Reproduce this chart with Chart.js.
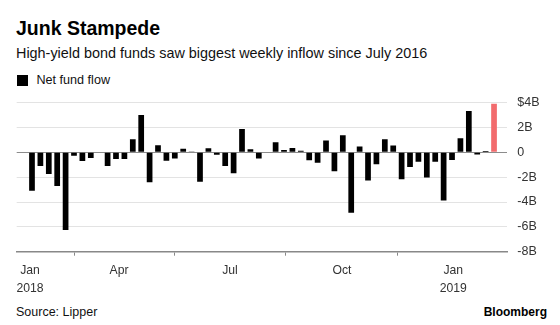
<!DOCTYPE html>
<html>
<head>
<meta charset="utf-8">
<script src="https://cdn.jsdelivr.net/npm/chart.js@4.4.1/dist/chart.umd.min.js"></script>
<style>
    body { margin: 0; background: #fff; }
    #wrap { position: relative; width: 560px; height: 325px; font-family: 'Liberation Sans', Arial, sans-serif; color: #000; }
    .t { position: absolute; white-space: nowrap; line-height: 1; }
    #title { left: 16px; top: 19px; font-size: 19.5px; font-weight: bold; }
    #sub { left: 16px; top: 45.8px; font-size: 14.4px; color: #111; }
    #key { position: absolute; left: 17px; top: 75px; width: 11px; height: 11px; background: #000; }
    #keyText { left: 36.5px; top: 74px; font-size: 12.6px; color: #111; }
    #source { left: 16px; top: 305.5px; font-size: 12.5px; color: #111; }
    #brand { right: 13px; top: 306px; font-size: 12px; font-weight: bold; }
    #chart { position: absolute; left: 0; top: 90px; }
</style>
</head>
<body>
<div id="wrap">
    <div class="t" id="title">Junk Stampede</div>
    <div class="t" id="sub">High-yield bond funds saw biggest weekly inflow since July 2016</div>
    <div id="key"></div>
    <div class="t" id="keyText">Net fund flow</div>
    <canvas id="chart" width="560" height="215"></canvas>
    <div class="t" id="source">Source: Lipper</div>
    <div class="t" id="brand">Bloomberg</div>
</div>
<script>
// weekly high-yield fund flows, $ billions (week ending)
const weeks = [
    '2018-01-17', '2018-01-24', '2018-01-31', '2018-02-07', '2018-02-14', '2018-02-21', '2018-02-28',
    '2018-03-07', '2018-03-14', '2018-03-21', '2018-03-28', '2018-04-04', '2018-04-11', '2018-04-18',
    '2018-04-25', '2018-05-02', '2018-05-09', '2018-05-16', '2018-05-23', '2018-05-30', '2018-06-06',
    '2018-06-13', '2018-06-20', '2018-06-27', '2018-07-04', '2018-07-11', '2018-07-18', '2018-07-25',
    '2018-08-01', '2018-08-08', '2018-08-15', '2018-08-22', '2018-08-29', '2018-09-05', '2018-09-12',
    '2018-09-19', '2018-09-26', '2018-10-03', '2018-10-10', '2018-10-17', '2018-10-24', '2018-10-31',
    '2018-11-07', '2018-11-14', '2018-11-21', '2018-11-28', '2018-12-05', '2018-12-12', '2018-12-19',
    '2018-12-26', '2019-01-02', '2019-01-09', '2019-01-16', '2019-01-23', '2019-01-30', '2019-02-06'
];
const flows = [
    -3.1, -1.1, -1.75, -2.7, -6.25, -0.27, -0.7,
    -0.46, 0.05, -1.1, -0.54, -0.54, 1.05, 3.0,
    -2.4, 0.57, -0.68, -0.49, 0.3, 0.02, -2.36,
    0.33, -0.2, -1.1, -1.68, 1.88, 0.26, -0.49,
    0.05, 0.82, 0.2, 0.35, 0.13, -0.63, -0.84,
    0.95, -1.52, 1.38, -4.86, 0.47, -2.26, -0.96,
    1.05, 0.56, -2.16, -1.18, -0.75, -2.02, -0.76,
    -3.88, -0.62, 1.13, 3.34, -0.18, 0.12, 3.91
];

// month ticks, in week-index units
const tickPos = [-0.24, 10.36, 23.57, 36.9, 50.15];
const tickLabels = [['Jan', '2018'], ['Apr'], ['Jul'], ['Oct'], ['Jan', '2019']];

const barColors = flows.map((v, i) => i === flows.length - 1 ? '#f26b6d' : '#000000');

new Chart(document.getElementById('chart'), {
    type: 'bar',
    data: {
        datasets: [{
            label: 'Net fund flow',
            data: flows.map((v, i) => ({x: i, y: v})),
            backgroundColor: barColors,
            borderWidth: 0,
            barPercentage: 0.68,
            categoryPercentage: 1
        }]
    },
    options: {
        responsive: false,
        animation: false,
        layout: {
            padding: {left: 16.7, top: 12.7, right: 0, bottom: 0}
        },
        plugins: {
            legend: {display: false},
            tooltip: {enabled: false}
        },
        scales: {
            x: {
                type: 'linear',
                min: -1.82,
                max: 56.58,
                offset: false,
                afterBuildTicks: (s) => {
                    s.ticks = tickPos.map(v => ({value: v}));
                },
                afterFit: (s) => {
                    s.height = 53.3;
                },
                grid: {
                    drawOnChartArea: false,
                    drawTicks: true,
                    tickLength: 4,
                    color: '#888888',
                    lineWidth: 1
                },
                border: {display: true, color: '#888888', width: 1.5},
                ticks: {
                    autoSkip: false,
                    maxRotation: 0,
                    padding: 5,
                    color: '#333333',
                    font: {size: 12.2, family: "'Liberation Sans', Arial, sans-serif", lineHeight: 1.55},
                    callback: (v, i) => tickLabels[i]
                }
            },
            y: {
                position: 'right',
                min: -8,
                max: 4,
                afterFit: (s) => {
                    s.width = 52.7;
                },
                grid: {
                    drawTicks: true,
                    tickLength: 10,
                    tickColor: 'rgba(0,0,0,0)',
                    color: (ctx) => ctx.tick.value === 0 ? '#8c8c8c' : '#e3e3e3',
                    lineWidth: 1
                },
                border: {display: false},
                ticks: {
                    stepSize: 2,
                    padding: 0,
                    color: '#333333',
                    font: {size: 12.5, family: "'Liberation Sans', Arial, sans-serif"},
                    callback: (v) => v === 4 ? '$4B' : (v === 0 ? '0' : v + 'B')
                }
            }
        }
    }
});
</script>
</body>
</html>
